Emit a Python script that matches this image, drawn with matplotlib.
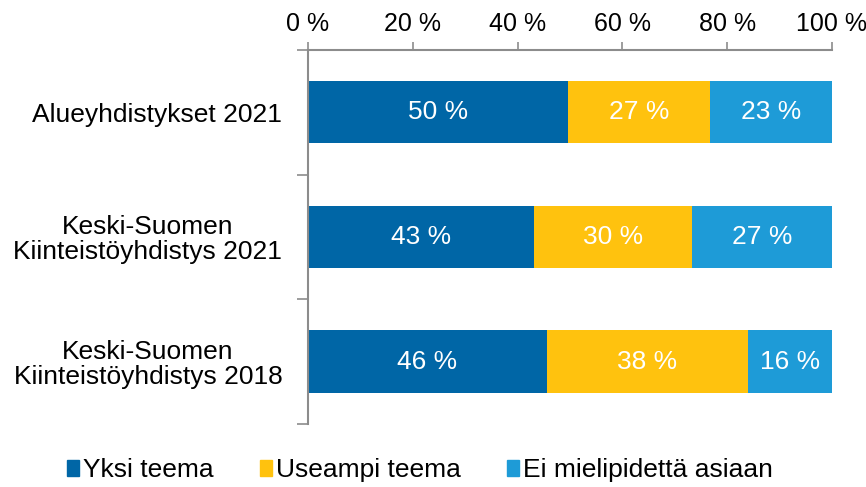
import numpy as np
import matplotlib.pyplot as plt
from matplotlib.patches import Patch

plt.rcParams['font.family'] = ['Liberation Sans', 'DejaVu Sans']

categories = ['Alueyhdistykset 2021',
              'Keski-Suomen\nKiinteistöyhdistys 2021',
              'Keski-Suomen\nKiinteistöyhdistys 2018']
series = ['Yksi teema', 'Useampi teema', 'Ei mielipidettä asiaan']
yksi = [49.6, 43.2, 45.6]
useampi = [27.2, 30.1, 38.4]
ei = [23.2, 26.7, 16.0]
colors = ['#0066a6', '#ffc20e', '#1e9bd7']
xticks = [0, 20, 40, 60, 80, 100]

fs = 19

fig = plt.figure(figsize=(8.66, 4.87), dpi=100)
ax = fig.add_axes([0.3557, 0.1294, 0.605, 0.768])

y = np.arange(len(categories))
left = np.zeros(len(categories))
for name, vals, c in zip(series, [yksi, useampi, ei], colors):
    vals = np.array(vals)
    ax.barh(y, vals, left=left, height=0.5, color=c, label=name)
    for yi, l, v in zip(y, left, vals):
        ax.text(l + v / 2, yi, f'{round(v)} %', ha='center', va='center',
                color='white', fontsize=fs)
    left += vals

ax.set_xlim(0, 100)
ax.set_ylim(2.5, -0.5)
ax.xaxis.tick_top()
ax.set_xticks(xticks)
ax.set_xticklabels([f'{t} %' for t in xticks], fontsize=18)
ax.set_yticks(y)
ax.set_yticklabels(categories, fontsize=fs, linespacing=1.05)
ax.set_yticks([-0.5, 0.5, 1.5, 2.5], minor=True)

gray = '#8c8c8c'
ax.tick_params(axis='x', which='major', direction='out', length=6, color=gray,
               width=1.2, pad=4)
ax.tick_params(axis='y', which='major', length=0, pad=18.5)
ax.tick_params(axis='y', which='minor', length=8, color=gray, width=1.2)
for s in ['right', 'bottom']:
    ax.spines[s].set_visible(False)
for s in ['top', 'left']:
    ax.spines[s].set_color(gray)
    ax.spines[s].set_linewidth(1.5)
for lab in ax.get_yticklabels():
    lab.set_multialignment('center')

handles = [Patch(color=c, label=n) for n, c in zip(series, colors)]
fig.legend(handles=handles, loc='center', bbox_to_anchor=(0.485, 0.035), ncol=3,
           frameon=False, fontsize=fs, handlelength=0.45, handleheight=0.55,
           handletextpad=0.15, columnspacing=1.75)

fig.savefig('out.png', dpi=100)
